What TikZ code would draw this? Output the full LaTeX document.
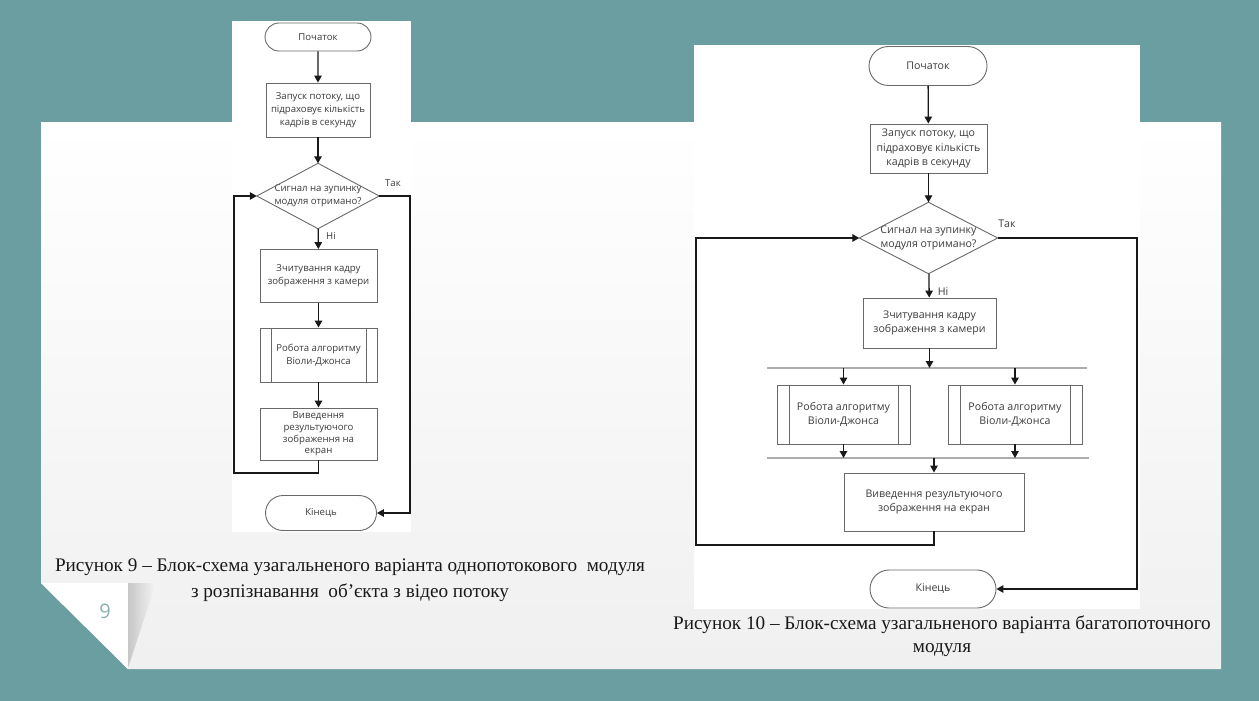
\documentclass[tikz,border=0pt]{standalone}
\usepackage{fontspec}
\setmainfont{Liberation Serif}
\newfontfamily\chartfont{Open Sans}
\usetikzlibrary{arrows.meta,shapes.misc,positioning}

\definecolor{slidebg}{RGB}{106,158,161}
\definecolor{shapeline}{RGB}{105,105,105}
\definecolor{chartink}{RGB}{60,60,60}
\definecolor{pagenum}{RGB}{138,176,178}

\tikzset{
	box/.style={draw=shapeline, line width=0.9pt, fill=white, text=chartink, align=center, inner sep=1pt},
	term/.style={box, rounded rectangle},
	proc/.style={box, rectangle},
	sub/.style={proc, path picture={
		\draw[shapeline, line width=0.9pt]
		([xshift=#1]path picture bounding box.north west) -- ([xshift=#1]path picture bounding box.south west)
		([xshift=-#1]path picture bounding box.north east) -- ([xshift=-#1]path picture bounding box.south east);}},
	sub/.default=11pt,
	dec/.style={rectangle, text=chartink, align=center, inner sep=0pt},
	flow/.style={draw=black!90, line width=1.3pt, -{Triangle[length=7pt,width=7.5pt]}},
	bar/.style={draw=black!32, line width=1.4pt},
	lbl/.style={text=chartink, inner sep=0pt},
	lfont/.style={font=\chartfont\fontsize{9.6}{13.3}\selectfont},
	rfont/.style={font=\chartfont\fontsize{10.6}{14.8}\selectfont},
	capt/.style={align=center, text=black!90, inner sep=0pt}
}

\begin{document}
\begin{tikzpicture}[x=1pt, y=-1pt]
		\useasboundingbox (0,0) rectangle (1259,701);
		% slide
		\fill[slidebg] (0,0) rectangle (1259,701);
		\shade[top color=white, bottom color=black!6] (41,122) -- (1221,122) -- (1221,669) -- (128,669) -- (41,583) -- cycle;
		\fill[white] (41,583) -- (128,583) -- (128,669) -- cycle;
		\shade[left color=black!22, right color=black!4] (128,583) -- (156,583) -- (128,668) -- cycle;
		\fill[white] (232,21) rectangle (411,532);
		\fill[white] (694,45) rectangle (1140,609);
		\draw (105,611) node [text=pagenum, font=\chartfont\fontsize{20}{20}\selectfont] (pg) {9};

		% figure 9
		\begin{scope}[lfont]
		\draw (318,37) node [term, minimum width=108pt, minimum height=28pt] (s1) {Початок};
		\draw (318,110) node [proc, minimum width=104pt, minimum height=54pt, inner sep=0pt] (p1) {Запуск потоку, що\\підраховує кількість\\кадрів в секунду};
		\draw (318,196) node [dec, minimum width=122pt, minimum height=65pt] (d1) {Сигнал на зупинку\\модуля отримано?};
		\draw[shapeline, line width=0.9pt] (d1.north) -- (d1.east) -- (d1.south) -- (d1.west) -- cycle;
		\draw (318.5,276) node [proc, minimum width=117pt, minimum height=53pt] (p2) {Зчитування кадру\\зображення з камери};
		\draw (318.5,355) node [sub, minimum width=117pt, minimum height=54pt] (r1) {Робота алгоритму\\Віоли-Джонса};
		\draw (318.5,434) node [proc, minimum width=117pt, minimum height=52pt, font=\chartfont\fontsize{9.6}{11.8}\selectfont] (p3) {Виведення\\результуючого\\зображення на\\екран};
		\draw (321,513) node [term, minimum width=113pt, minimum height=35pt] (e1) {Кінець};
		\draw (393,183) node [lbl] (yes1) {Так};
		\draw (331,236) node [lbl] (no1) {Ні};
		\end{scope}
		\coordinate (loop1) at (234,473);
		\coordinate (side1) at (410,196);

		\draw[flow] (s1) -- (p1);
		\draw[flow] (p1) -- (d1);
		\draw[flow] (d1) -- (p2);
		\draw[flow] (p2) -- (r1);
		\draw[flow] (r1) -- (p3);
		\draw[flow] (p3.south) |- (loop1) |- (d1.west);
		\draw[flow] (d1.east) -- (side1) |- (e1.east);

		% figure 10
		\begin{scope}[rfont]
		\draw (928,66) node [term, minimum width=120pt, minimum height=39pt] (s2) {Початок};
		\draw (928.5,148.5) node [proc, minimum width=117pt, minimum height=49pt, inner sep=0pt] (q1) {Запуск потоку, що\\підраховує кількість\\кадрів в секунду};
		\draw (928.5,238) node [dec, minimum width=138pt, minimum height=71pt] (d2) {Сигнал на зупинку\\модуля отримано?};
		\draw[shapeline, line width=0.9pt] (d2.north) -- (d2.east) -- (d2.south) -- (d2.west) -- cycle;
		\draw (929.5,323) node [proc, minimum width=133pt, minimum height=50pt] (q2) {Зчитування кадру\\зображення з камери};
		\draw (843.5,414.5) node [sub=12pt, minimum width=133pt, minimum height=59pt] (r2) {Робота алгоритму\\Віоли-Джонса};
		\draw (1015,414.5) node [sub=12pt, minimum width=134pt, minimum height=59pt] (r3) {Робота алгоритму\\Віоли-Джонса};
		\draw (934,502) node [proc, minimum width=180pt, minimum height=58pt] (q3) {Виведення результуючого\\зображення на екран};
		\draw (933,589) node [term, minimum width=128pt, minimum height=38pt] (e2) {Кінець};
		\draw (1007,224) node [lbl] (yes2) {Так};
		\draw (943,292) node [lbl] (no2) {Ні};
		\end{scope}
		\coordinate (fork) at (767,368);
		\coordinate (forkend) at (1087,368);
		\coordinate (join) at (767,458);
		\coordinate (joinend) at (1089,458);
		\coordinate (loop2) at (696,545);
		\coordinate (side2) at (1137,238);

		\draw[bar] (fork) -- (forkend);
		\draw[bar] (join) -- (joinend);
		\draw[flow] (s2) -- (q1);
		\draw[flow] (q1) -- (d2);
		\draw[flow] (d2) -- (q2);
		\draw[flow] (q2.south) -- (q2.south |- fork);
		\draw[flow] (r2.north |- fork) -- (r2.north);
		\draw[flow] (r3.north |- fork) -- (r3.north);
		\draw[flow] (r2.south) -- (r2.south |- join);
		\draw[flow] (r3.south) -- (r3.south |- join);
		\draw[flow] (q3.north |- join) -- (q3.north);
		\draw[flow] (q3.south) |- (loop2) |- (d2.west);
		\draw[flow] (d2.east) -- (side2) |- (e2.east);

		% captions
		\draw (350,580) node [capt, font=\fontsize{19.2}{26}\selectfont] (cap9) {Рисунок 9 – Блок-схема узагальненого варіанта однопотокового\ \ модуля\\з розпізнавання\ \ об'єкта з відео потоку};
		\draw (942,636.5) node [capt, font=\fontsize{19.2}{23}\selectfont] (cap10) {Рисунок 10 – Блок-схема узагальненого варіанта багатопоточного\\модуля};
	\end{tikzpicture}
\end{document}
